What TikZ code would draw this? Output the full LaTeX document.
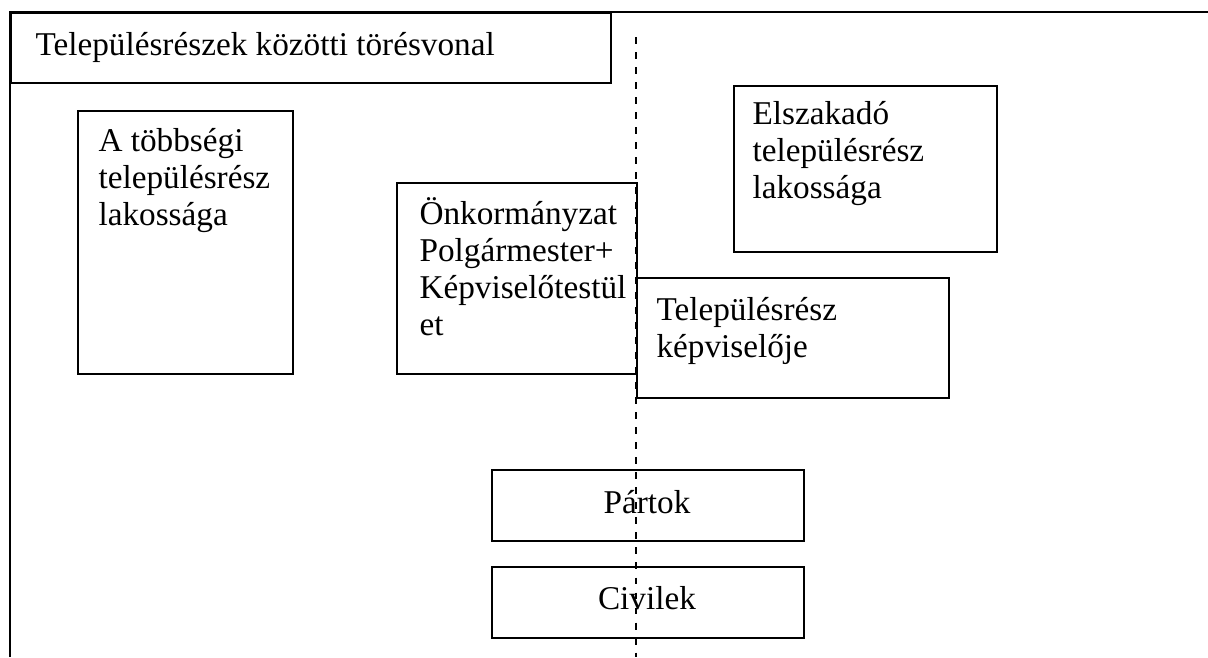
\documentclass[tikz,border=0pt]{standalone}
\usepackage{fontspec}
\setmainfont{Liberation Serif}
\newcommand{\boxfont}{\fontsize{12.4}{13.9}\selectfont}
\begin{document}
\begin{tikzpicture}[x=0.373pt,y=-0.373pt,
  frame/.style={line width=0.75pt},
  box/.style={draw,line width=0.75pt,fill=white,inner sep=0pt,anchor=north west},
  txt/.style={inner sep=0pt,anchor=base west,font=\boxfont},
  ctxt/.style={inner sep=0pt,anchor=base,font=\boxfont},
  cut/.style={line width=0.75pt,dash pattern=on 2.6pt off 3pt}]
\useasboundingbox (0,0) rectangle (1208,657);
% outer frame (partly outside the picture)
\coordinate (fb) at (10,657);
\coordinate (fc) at (10,12);
\coordinate (fr) at (1208,12);
\draw[frame] (fb) -- (fc) -- (fr);
% title box
\node[box,minimum width=600*0.373pt,minimum height=70*0.373pt] (title) at (10,12) {};
\node[txt] (titletxt) at (35,55) {Településrészek közötti törésvonal};
% boxes
\node[box,minimum width=215*0.373pt,minimum height=263*0.373pt] (maj) at (77,110) {};
\node[txt] (majtxt) at (98,151) {\parbox[t]{6cm}{\boxfont A többségi\\településrész\\lakossága}};
\node[box,minimum width=240*0.373pt,minimum height=191*0.373pt] (onk) at (396,182) {};
\node[txt] (onktxt) at (419,224) {\parbox[t]{6cm}{\boxfont Önkormányzat\\Polgármester+\\Képviselőtestül\\et}};
\node[box,minimum width=263*0.373pt,minimum height=166*0.373pt] (elsz) at (733,85) {};
\node[txt] (elsztxt) at (752,124) {\parbox[t]{6cm}{\boxfont Elszakadó\\településrész\\lakossága}};
\node[box,minimum width=312*0.373pt,minimum height=120*0.373pt] (kep) at (636,277) {};
\node[txt] (keptxt) at (656,320) {\parbox[t]{6cm}{\boxfont Településrész\\képviselője}};
\node[box,minimum width=312*0.373pt,minimum height=71*0.373pt] (part) at (491,469) {};
\node[ctxt] (parttxt) at (647,513) {Pártok};
\node[box,minimum width=312*0.373pt,minimum height=71*0.373pt] (civ) at (491,566) {};
\node[ctxt] (civtxt) at (647,609) {Civilek};
% dividing line
\coordinate (dtop) at (636,37);
\coordinate (dbot) at (636,657);
\draw[cut] (dtop) -- (dbot);
\end{tikzpicture}
\end{document}
